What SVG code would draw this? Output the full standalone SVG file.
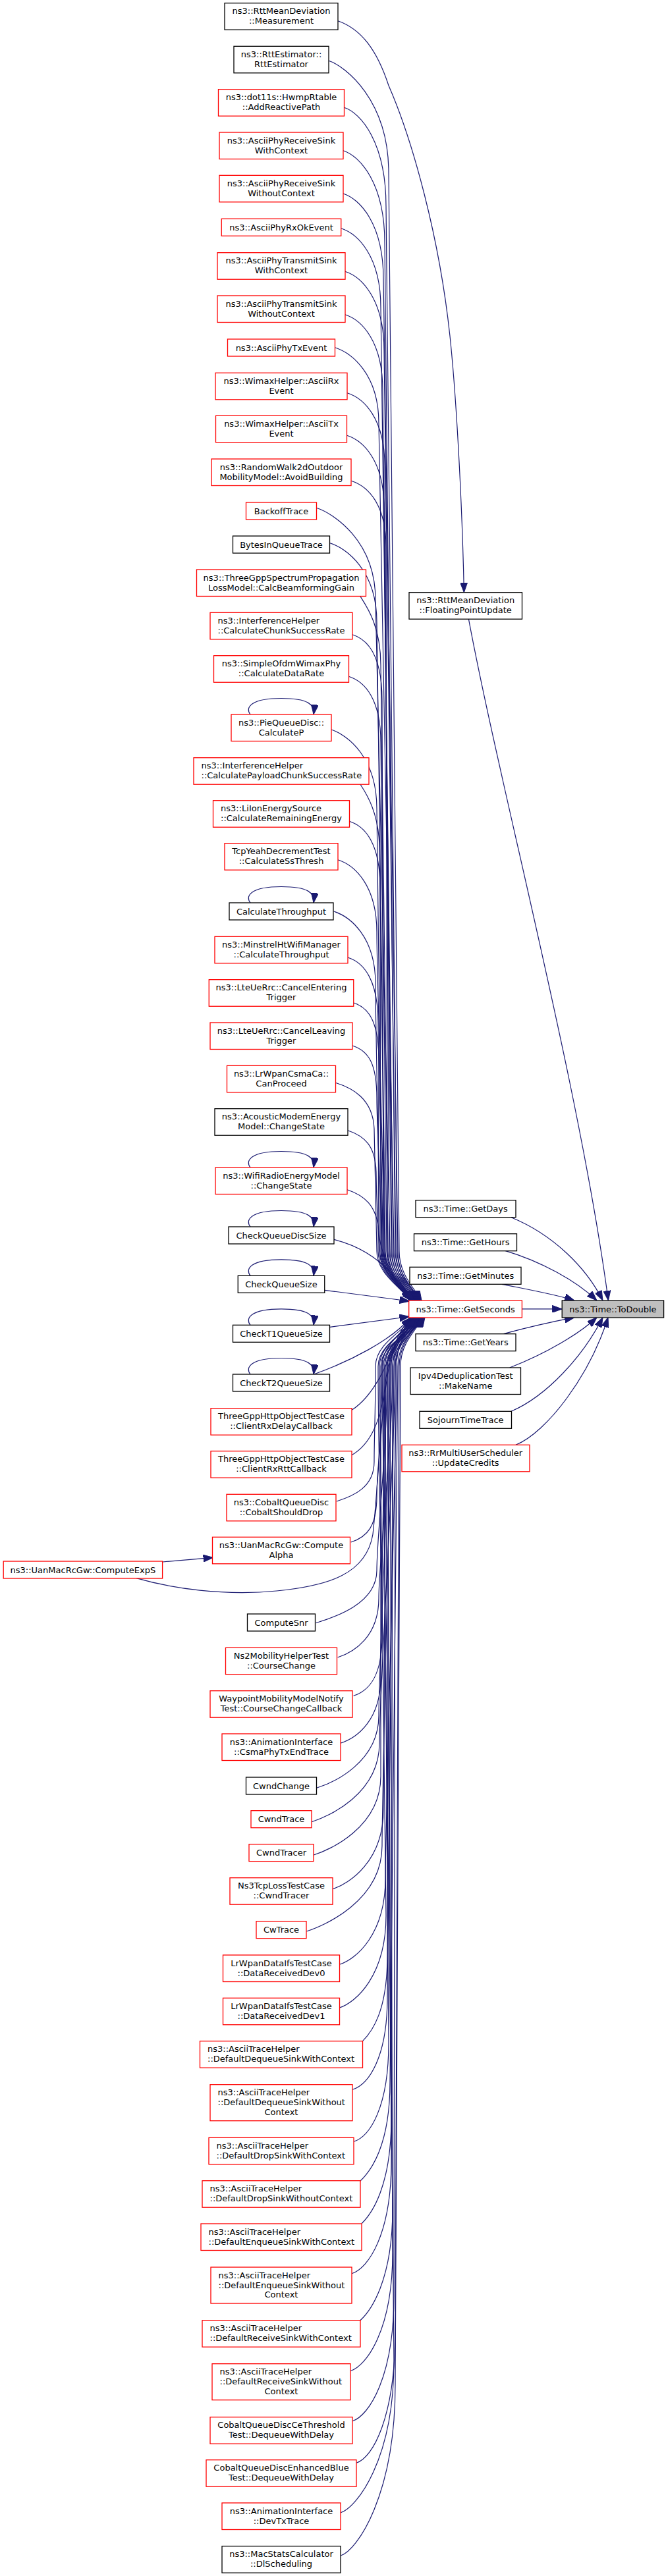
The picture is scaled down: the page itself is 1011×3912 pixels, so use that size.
<svg xmlns="http://www.w3.org/2000/svg" width="1011" height="3912" viewBox="0 0 1011 3912">
<defs>
<style>
rect.k{fill:#fff;stroke:#000;stroke-width:1.3}
rect.r{fill:#fff;stroke:#ff0000;stroke-width:1.3}
rect.g{fill:#bfbfbf;stroke:#000;stroke-width:1.3}
text{font-family:"DejaVu Sans","Liberation Sans",sans-serif;font-size:13px;fill:#000}
text.c{text-anchor:middle}
#edges path{fill:none;stroke:#191970;stroke-width:1.2;marker-end:url(#a)}
</style>
<marker id="a" markerUnits="userSpaceOnUse" markerWidth="15" markerHeight="11" viewBox="0 0 15 11" refX="15" refY="5.5" orient="auto"><path d="M0,0 L15,5.5 L0,11 z" fill="#191970" stroke="#191970" stroke-width="1"/></marker>
</defs>
<rect x="0" y="0" width="1011" height="3912" fill="#fff"/>
<g id="edges">
<path d="M513,31.7 C548,44 572,75 590,130 C625,210 668,360 684,520 C694,620 702,780 704.4,899.7"/>
<path d="M711.4,940.2 C760,1200 880,1650 923.4,1975"/>
<path d="M792.4,1987.9 L853.2,1987.9"/>
<path d="M776,1848.7 C840,1875 890,1925 915,1975"/>
<path d="M766.7,1899.3 C820,1915 875,1945 906,1975"/>
<path d="M762,1950.3 C800,1958 845,1966 872,1975"/>
<path d="M764.3,2025.7 C800,2016 845,2006 872,2000.7"/>
<path d="M773.7,2077 C830,2055 880,2025 906,2000.7"/>
<path d="M776,2143.3 C830,2120 885,2060 915,2000.7"/>
<path d="M783,2194.3 C830,2175 895,2090 923,2000.7"/>
<path d="M499,92.3 C524,100.3 590,151.8 590,262.3 S606,1780 606,1900 C606,1935 628,1955 640,1975"/>
<path d="M522.4,163.3 C547.4,171.3 586,215.8 586,313.3 S603,1780 603,1900 C603,1935 626,1955 638,1975"/>
<path d="M521,228.7 C546,236.7 584,277.7 584,368.7 S600,1780 600,1900 C600,1935 625,1955 637,1975"/>
<path d="M521,294 C546,302 582,339.5 582,424 S604,1780 604,1900 C604,1935 624,1955 636,1975"/>
<path d="M517.7,346.7 C542.7,354.7 578,388.7 578,466.7 S597,1780 597,1900 C597,1935 623,1955 635,1975"/>
<path d="M523.8,412.3 C548.8,420.3 583,454.3 583,532.3 S601,1780 601,1900 C601,1935 622,1955 634,1975"/>
<path d="M523.8,477.7 C548.8,485.7 581,518 581,592.7 S594,1780 594,1900 C594,1935 621,1955 633,1975"/>
<path d="M508.4,527.7 C533.4,535.7 575,568 575,642.7 S598,1780 598,1900 C598,1935 620,1955 632,1975"/>
<path d="M527.1,596.7 C552.1,604.7 584,635.2 584,706.7 S591,1780 591,1900 C591,1935 619,1955 631,1975"/>
<path d="M526.6,661.3 C551.6,669.3 583,699.8 583,771.3 S595,1780 595,1900 C595,1935 618,1955 630,1975"/>
<path d="M533.2,730.3 C558.2,738.3 586,765.3 586,830.3 S588,1780 588,1900 C588,1935 617,1955 629,1975"/>
<path d="M480.3,771.3 C505.3,779.3 570,820.3 570,911.3 S592,1780 592,1900 C592,1935 616,1955 628,1975"/>
<path d="M500.9,824.7 C525.9,832.7 572,866.7 572,944.7 S585,1780 585,1900 C585,1935 615,1955 627,1975"/>
<path d="M546.7,905.3 C556,920 578,950 578,1010 S589,1780 589,1900 C589,1935 615,1955 627,1975"/>
<path d="M535,963.7 C560,971.7 580,998.7 580,1063.7 S582,1780 582,1900 C582,1935 614,1955 626,1975"/>
<path d="M529.4,1027.3 C554.4,1035.3 578,1062.3 578,1127.3 S587,1780 587,1900 C587,1935 614,1955 626,1975"/>
<path d="M502.7,1108 C527.7,1116 572,1150 572,1228 S580,1780 580,1900 C580,1935 613,1955 625,1975"/>
<path d="M546.7,1190.7 C556,1205 576,1235 576,1290 S584,1780 584,1900 C584,1935 613,1955 625,1975"/>
<path d="M530.3,1247.3 C555.3,1255.3 577,1282.3 577,1347.3 S578,1780 578,1900 C578,1935 612,1955 624,1975"/>
<path d="M513,1305.7 C538,1313.7 572,1344.2 572,1415.7 S583,1780 583,1900 C583,1935 612,1955 624,1975"/>
<path d="M506.5,1384 C531.5,1392 570,1422.5 570,1494 S576,1780 576,1900 C576,1935 611,1955 623,1975"/>
<path d="M528,1454 C553,1462 574,1489 574,1554 S581,1780 581,1900 C581,1935 611,1955 623,1975"/>
<path d="M536.9,1523 C561.9,1531 575,1554.5 575,1613 S574,1780 574,1900 C574,1935 610,1955 622.5,1975"/>
<path d="M535,1588 C560,1596 572,1616 572,1668 S579,1800 579,1900 C579,1935 610,1955 622.5,1975"/>
<path d="M509.3,1644.3 C534,1652 566,1668 568,1714 C570,1800 572,1880 572,1900 C572,1935 610,1955 622,1975"/>
<path d="M528,1716.7 C553,1725 570,1740 571,1780 C572,1850 575,1885 577,1905 C580,1935 612,1957 624,1975"/>
<path d="M527.1,1806.7 C552,1815 572,1830 575,1870 C577,1905 600,1950 626,1975"/>
<path d="M507,1882.3 C545,1892 575,1912 595,1935 C608,1950 618,1962 628,1975"/>
<path d="M492.9,1959.3 L621.5,1976"/>
<path d="M500.9,2015.3 L621.5,1999.5"/>
<path d="M476.5,2087 C530,2068 595,2035 623,2001"/>
<path d="M534.1,2141.3 C570,2118 590,2065 600,2040 C607,2022 615,2010 624,2001"/>
<path d="M534,2209.7 C565,2192 580,2150 585,2100 C590,2050 610,2020 626,2001"/>
<path d="M511,2280 C536,2272 568,2259 568,2220 S570,2150 570,2075 C570,2040 615,2020 627,2000.7"/>
<path d="M532.7,2342 C557.7,2334 572,2317.5 572,2272 S580,2200 580,2075 C580,2040 617,2020 629,2000.7"/>
<path d="M479.6,2464.7 C504.6,2456.7 572,2436.7 572,2384.7 S588,2200 588,2075 C588,2040 619,2020 631,2000.7"/>
<path d="M512.6,2517 C537.6,2509 575,2485.5 575,2427 S596,2200 596,2075 C596,2040 621,2020 633,2000.7"/>
<path d="M536.6,2575.3 C561.6,2567.3 580,2543.8 580,2485.3 S574,2200 574,2075 C574,2040 623,2020 635,2000.7"/>
<path d="M516.8,2647.3 C541.8,2639.3 578,2612.3 578,2547.3 S584,2200 584,2075 C584,2040 625,2020 637,2000.7"/>
<path d="M480.7,2715.3 C505.7,2707.3 575,2676.8 575,2605.3 S592,2200 592,2075 C592,2040 627,2020 639,2000.7"/>
<path d="M473.3,2766.7 C498.3,2758.7 576,2724.7 576,2646.7 S600,2200 600,2075 C600,2040 629,2020 641,2000.7"/>
<path d="M475.6,2817.3 C500.6,2809.3 578,2775.3 578,2697.3 S578,2200 578,2075 C578,2040 631,2020 643,2000.7"/>
<path d="M505.1,2868.7 C530.1,2860.7 582,2826.7 582,2748.7 S586,2200 586,2075 C586,2040 633,2020 645,2000.7"/>
<path d="M465.3,2933 C490.3,2925 580,2887.5 580,2803 S594,2200 594,2075 C594,2040 616,2020 628,2000.7"/>
<path d="M515.4,2983.3 C540.4,2975.3 585,2937.8 585,2853.3 S602,2200 602,2075 C602,2040 618,2020 630,2000.7"/>
<path d="M515.4,3049 C540.4,3041 586,3000 586,2909 S576,2200 576,2075 C576,2040 620,2020 632,2000.7"/>
<path d="M550.5,3099.7 C565,3085 588,3054.2 588,2969.7 S590,2200 590,2075 C590,2040 622,2020 634,2000.7"/>
<path d="M535,3173.3 C560,3165.3 588,3124.3 588,3033.3 S598,2200 598,2075 C598,2040 624,2020 636,2000.7"/>
<path d="M536.9,3252.3 C561.9,3244.3 590,3199.8 590,3102.3 S582,2200 582,2075 C582,2040 626,2020 638,2000.7"/>
<path d="M546.7,3312.3 C562,3298 592,3259.8 592,3162.3 S604,2200 604,2075 C604,2040 628,2020 640,2000.7"/>
<path d="M549,3376.7 C564,3362 594,3320.7 594,3216.7 S588,2200 588,2075 C588,2040 630,2020 642,2000.7"/>
<path d="M534.1,3452.7 C559.1,3444.7 594,3393.2 594,3282.7 S596,2200 596,2075 C596,2040 632,2020 644,2000.7"/>
<path d="M546.7,3524 C562,3510 596,3464.5 596,3354 S580,2200 580,2075 C580,2040 617,2020 629,2000.7"/>
<path d="M531.8,3600.7 C556.8,3592.7 596,3537.7 596,3420.7 S592,2200 592,2075 C592,2040 621,2020 633,2000.7"/>
<path d="M535,3676.7 C560,3668.7 598,3610.2 598,3486.7 S600,2200 600,2075 C600,2040 625,2020 637,2000.7"/>
<path d="M541.1,3740.3 C566.1,3732.3 600,3670.3 600,3540.3 S606,2200 606,2075 C606,2040 629,2020 641,2000.7"/>
<path d="M516.8,3816 C541.8,3808 598,3735.5 598,3586 S584,2200 584,2075 C584,2040 623,2020 635,2000.7"/>
<path d="M516.8,3881.3 C541.8,3873.3 600,3790.3 600,3621.3 S608,2200 608,2075 C608,2040 631,2020 643,2000.7"/>
<path d="M207,2396.7 C260,2412 340,2424 420,2416 C500,2408 556,2390 566,2330 C575,2250 580,2100 595,2060 C605,2035 620,2015 632,2000.7"/>
<path d="M246.6,2372 L323.6,2365.3"/>
<path d="M380,1085 C372,1075 380,1060.5 427,1060.5 C468,1060.5 478,1070 476,1085"/>
<path d="M380,1371 C372,1361 380,1346.5 427,1346.5 C468,1346.5 478,1356 476,1371"/>
<path d="M380,1773 C372,1763 380,1748.5 427,1748.5 C468,1748.5 478,1758 476,1773"/>
<path d="M380,1863 C372,1853 380,1838.5 427,1838.5 C468,1838.5 478,1848 476,1863"/>
<path d="M380,1937.3 C372,1927.3 380,1912.8 427,1912.8 C468,1912.8 478,1922.3 476,1937.3"/>
<path d="M380,2012.3 C372,2002.3 380,1987.8 427,1987.8 C468,1987.8 478,1997.3 476,2012.3"/>
<path d="M380,2087 C372,2077 380,2062.5 427,2062.5 C468,2062.5 478,2072 476,2087"/>
</g>
<g id="n1"><rect class="k" x="341" y="4.7" width="172" height="40.5"/><text class="c" x="427" y="21.4">ns3::RttMeanDeviation</text><text class="c" x="427" y="36.4">::Measurement</text></g>
<g id="n2"><rect class="k" x="355" y="70.3" width="144" height="40.5"/><text class="c" x="427" y="87">ns3::RttEstimator::</text><text class="c" x="427" y="102">RttEstimator</text></g>
<g id="n3"><rect class="r" x="331.5" y="135.7" width="191" height="40.5"/><text class="c" x="427" y="152.4">ns3::dot11s::HwmpRtable</text><text class="c" x="427" y="167.4">::AddReactivePath</text></g>
<g id="n4"><rect class="r" x="333" y="201" width="188" height="40.5"/><text class="c" x="427" y="217.7">ns3::AsciiPhyReceiveSink</text><text class="c" x="427" y="232.7">WithContext</text></g>
<g id="n5"><rect class="r" x="333" y="266.3" width="188" height="40.5"/><text class="c" x="427" y="283">ns3::AsciiPhyReceiveSink</text><text class="c" x="427" y="298">WithoutContext</text></g>
<g id="n6"><rect class="r" x="336.25" y="332.3" width="181.5" height="26"/><text class="c" x="427" y="350">ns3::AsciiPhyRxOkEvent</text></g>
<g id="n7"><rect class="r" x="330" y="383.7" width="194" height="40.5"/><text class="c" x="427" y="400.4">ns3::AsciiPhyTransmitSink</text><text class="c" x="427" y="415.4">WithContext</text></g>
<g id="n8"><rect class="r" x="330" y="449" width="194" height="40.5"/><text class="c" x="427" y="465.7">ns3::AsciiPhyTransmitSink</text><text class="c" x="427" y="480.7">WithoutContext</text></g>
<g id="n9"><rect class="r" x="345.5" y="515" width="163" height="26"/><text class="c" x="427" y="532.7">ns3::AsciiPhyTxEvent</text></g>
<g id="n10"><rect class="r" x="327" y="566.3" width="200" height="40.5"/><text class="c" x="427" y="583">ns3::WimaxHelper::AsciiRx</text><text class="c" x="427" y="598">Event</text></g>
<g id="n11"><rect class="r" x="327.5" y="631.3" width="199" height="40.5"/><text class="c" x="427" y="648">ns3::WimaxHelper::AsciiTx</text><text class="c" x="427" y="663">Event</text></g>
<g id="n12"><rect class="r" x="321" y="697" width="212" height="40.5"/><text class="c" x="427" y="713.7">ns3::RandomWalk2dOutdoor</text><text class="c" x="427" y="728.7">MobilityModel::AvoidBuilding</text></g>
<g id="n13"><rect class="r" x="373.5" y="763" width="107" height="26"/><text class="c" x="427" y="780.7">BackoffTrace</text></g>
<g id="n14"><rect class="k" x="353.5" y="814" width="147" height="26"/><text class="c" x="427" y="831.7">BytesInQueueTrace</text></g>
<g id="n15"><rect class="r" x="298.5" y="865" width="257" height="40.5"/><text class="c" x="427" y="881.7">ns3::ThreeGppSpectrumPropagation</text><text class="c" x="427" y="896.7">LossModel::CalcBeamformingGain</text></g>
<g id="n16"><rect class="r" x="319" y="930.3" width="216" height="40.5"/><text x="330.5" y="947">ns3::InterferenceHelper</text><text x="330.5" y="962">::CalculateChunkSuccessRate</text></g>
<g id="n17"><rect class="r" x="324.5" y="995.7" width="205" height="40.5"/><text class="c" x="427" y="1012.4">ns3::SimpleOfdmWimaxPhy</text><text class="c" x="427" y="1027.4">::CalculateDataRate</text></g>
<g id="n18"><rect class="r" x="351" y="1085" width="152" height="40.5"/><text class="c" x="427" y="1101.7">ns3::PieQueueDisc::</text><text class="c" x="427" y="1116.7">CalculateP</text></g>
<g id="n19"><rect class="r" x="294" y="1150.7" width="266" height="40.5"/><text x="305.5" y="1167.4">ns3::InterferenceHelper</text><text x="305.5" y="1182.4">::CalculatePayloadChunkSuccessRate</text></g>
<g id="n20"><rect class="r" x="323.5" y="1215.7" width="207" height="40.5"/><text x="335" y="1232.4">ns3::LiIonEnergySource</text><text x="335" y="1247.4">::CalculateRemainingEnergy</text></g>
<g id="n21"><rect class="r" x="341" y="1280.7" width="172" height="40.5"/><text class="c" x="427" y="1297.4">TcpYeahDecrementTest</text><text class="c" x="427" y="1312.4">::CalculateSsThresh</text></g>
<g id="n22"><rect class="k" x="348" y="1371" width="158" height="26"/><text class="c" x="427" y="1388.7">CalculateThroughput</text></g>
<g id="n23"><rect class="r" x="326" y="1422.3" width="202" height="40.5"/><text class="c" x="427" y="1439">ns3::MinstrelHtWifiManager</text><text class="c" x="427" y="1454">::CalculateThroughput</text></g>
<g id="n24"><rect class="r" x="317.25" y="1487.7" width="219.5" height="40.5"/><text class="c" x="427" y="1504.4">ns3::LteUeRrc::CancelEntering</text><text class="c" x="427" y="1519.4">Trigger</text></g>
<g id="n25"><rect class="r" x="319" y="1553" width="216" height="40.5"/><text class="c" x="427" y="1569.7">ns3::LteUeRrc::CancelLeaving</text><text class="c" x="427" y="1584.7">Trigger</text></g>
<g id="n26"><rect class="r" x="344.5" y="1618.3" width="165" height="40.5"/><text class="c" x="427" y="1635">ns3::LrWpanCsmaCa::</text><text class="c" x="427" y="1650">CanProceed</text></g>
<g id="n27"><rect class="k" x="326" y="1683.7" width="202" height="40.5"/><text class="c" x="427" y="1700.4">ns3::AcousticModemEnergy</text><text class="c" x="427" y="1715.4">Model::ChangeState</text></g>
<g id="n28"><rect class="r" x="327" y="1773" width="200" height="40.5"/><text class="c" x="427" y="1789.7">ns3::WifiRadioEnergyModel</text><text class="c" x="427" y="1804.7">::ChangeState</text></g>
<g id="n29"><rect class="k" x="347" y="1863" width="160" height="26"/><text class="c" x="427" y="1880.7">CheckQueueDiscSize</text></g>
<g id="n30"><rect class="k" x="361.25" y="1937.3" width="131.5" height="26"/><text class="c" x="427" y="1955">CheckQueueSize</text></g>
<g id="n31"><rect class="k" x="353.5" y="2012.3" width="147" height="26"/><text class="c" x="427" y="2030">CheckT1QueueSize</text></g>
<g id="n32"><rect class="k" x="353.5" y="2087" width="147" height="26"/><text class="c" x="427" y="2104.7">CheckT2QueueSize</text></g>
<g id="n33"><rect class="r" x="320" y="2138.7" width="214" height="40.5"/><text class="c" x="427" y="2155.4">ThreeGppHttpObjectTestCase</text><text class="c" x="427" y="2170.4">::ClientRxDelayCallback</text></g>
<g id="n34"><rect class="r" x="320" y="2203.7" width="214" height="40.5"/><text class="c" x="427" y="2220.4">ThreeGppHttpObjectTestCase</text><text class="c" x="427" y="2235.4">::ClientRxRttCallback</text></g>
<g id="n35"><rect class="r" x="344" y="2269.3" width="166" height="40.5"/><text class="c" x="427" y="2286">ns3::CobaltQueueDisc</text><text class="c" x="427" y="2301">::CobaltShouldDrop</text></g>
<g id="n36"><rect class="r" x="322.5" y="2334.3" width="209" height="40.5"/><text class="c" x="427" y="2351">ns3::UanMacRcGw::Compute</text><text class="c" x="427" y="2366">Alpha</text></g>
<g id="n37"><rect class="k" x="375.5" y="2451" width="103" height="26"/><text class="c" x="427" y="2468.7">ComputeSnr</text></g>
<g id="n38"><rect class="r" x="342.5" y="2502.3" width="169" height="40.5"/><text class="c" x="427" y="2519">Ns2MobilityHelperTest</text><text class="c" x="427" y="2534">::CourseChange</text></g>
<g id="n39"><rect class="r" x="319" y="2567.7" width="216" height="40.5"/><text class="c" x="427" y="2584.4">WaypointMobilityModelNotify</text><text class="c" x="427" y="2599.4">Test::CourseChangeCallback</text></g>
<g id="n40"><rect class="r" x="337" y="2633" width="180" height="40.5"/><text class="c" x="427" y="2649.7">ns3::AnimationInterface</text><text class="c" x="427" y="2664.7">::CsmaPhyTxEndTrace</text></g>
<g id="n41"><rect class="k" x="373.5" y="2699" width="107" height="26"/><text class="c" x="427" y="2716.7">CwndChange</text></g>
<g id="n42"><rect class="r" x="381" y="2749.7" width="92" height="26"/><text class="c" x="427" y="2767.4">CwndTrace</text></g>
<g id="n43"><rect class="r" x="378" y="2800.7" width="98" height="26"/><text class="c" x="427" y="2818.4">CwndTracer</text></g>
<g id="n44"><rect class="r" x="349" y="2851.7" width="156" height="40.5"/><text class="c" x="427" y="2868.4">Ns3TcpLossTestCase</text><text class="c" x="427" y="2883.4">::CwndTracer</text></g>
<g id="n45"><rect class="r" x="389" y="2917.7" width="76" height="26"/><text class="c" x="427" y="2935.4">CwTrace</text></g>
<g id="n46"><rect class="r" x="338.5" y="2969" width="177" height="40.5"/><text class="c" x="427" y="2985.7">LrWpanDataIfsTestCase</text><text class="c" x="427" y="3000.7">::DataReceivedDev0</text></g>
<g id="n47"><rect class="r" x="338.5" y="3034.3" width="177" height="40.5"/><text class="c" x="427" y="3051">LrWpanDataIfsTestCase</text><text class="c" x="427" y="3066">::DataReceivedDev1</text></g>
<g id="n48"><rect class="r" x="303.5" y="3099.7" width="247" height="40.5"/><text x="315" y="3116.4">ns3::AsciiTraceHelper</text><text x="315" y="3131.4">::DefaultDequeueSinkWithContext</text></g>
<g id="n49"><rect class="r" x="319" y="3165.7" width="216" height="55"/><text x="330.5" y="3182.4">ns3::AsciiTraceHelper</text><text x="330.5" y="3197.2">::DefaultDequeueSinkWithout</text><text class="c" x="427" y="3211.7">Context</text></g>
<g id="n50"><rect class="r" x="317" y="3246.3" width="220" height="40.5"/><text x="328.5" y="3263">ns3::AsciiTraceHelper</text><text x="328.5" y="3278">::DefaultDropSinkWithContext</text></g>
<g id="n51"><rect class="r" x="307" y="3311.7" width="240" height="40.5"/><text x="318.5" y="3328.4">ns3::AsciiTraceHelper</text><text x="318.5" y="3343.4">::DefaultDropSinkWithoutContext</text></g>
<g id="n52"><rect class="r" x="305" y="3377" width="244" height="40.5"/><text x="316.5" y="3393.7">ns3::AsciiTraceHelper</text><text x="316.5" y="3408.7">::DefaultEnqueueSinkWithContext</text></g>
<g id="n53"><rect class="r" x="320" y="3443" width="214" height="55"/><text x="331.5" y="3459.7">ns3::AsciiTraceHelper</text><text x="331.5" y="3474.5">::DefaultEnqueueSinkWithout</text><text class="c" x="427" y="3489">Context</text></g>
<g id="n54"><rect class="r" x="307" y="3523.7" width="240" height="40.5"/><text x="318.5" y="3540.4">ns3::AsciiTraceHelper</text><text x="318.5" y="3555.4">::DefaultReceiveSinkWithContext</text></g>
<g id="n55"><rect class="r" x="322" y="3589.7" width="210" height="55"/><text x="333.5" y="3606.4">ns3::AsciiTraceHelper</text><text x="333.5" y="3621.2">::DefaultReceiveSinkWithout</text><text class="c" x="427" y="3635.7">Context</text></g>
<g id="n56"><rect class="r" x="319" y="3670.7" width="216" height="40.5"/><text class="c" x="427" y="3687.4">CobaltQueueDiscCeThreshold</text><text class="c" x="427" y="3702.4">Test::DequeueWithDelay</text></g>
<g id="n57"><rect class="r" x="313" y="3735.7" width="228" height="40.5"/><text class="c" x="427" y="3752.4">CobaltQueueDiscEnhancedBlue</text><text class="c" x="427" y="3767.4">Test::DequeueWithDelay</text></g>
<g id="n58"><rect class="r" x="337" y="3801" width="180" height="40.5"/><text class="c" x="427" y="3817.7">ns3::AnimationInterface</text><text class="c" x="427" y="3832.7">::DevTxTrace</text></g>
<g id="n59"><rect class="k" x="337" y="3866.7" width="180" height="40.5"/><text class="c" x="427" y="3883.4">ns3::MacStatsCalculator</text><text class="c" x="427" y="3898.4">::DlScheduling</text></g>
<g id="fpu"><rect class="k" x="621" y="899.7" width="171.5" height="40.5"/><text class="c" x="706.7" y="916.4">ns3::RttMeanDeviation</text><text class="c" x="706.7" y="931.4">::FloatingPointUpdate</text></g>
<g id="getdays"><rect class="k" x="631" y="1822.7" width="152" height="26"/><text class="c" x="706.7" y="1840.4">ns3::Time::GetDays</text></g>
<g id="gethours"><rect class="k" x="628.5" y="1873.7" width="156" height="26"/><text class="c" x="706.7" y="1891.4">ns3::Time::GetHours</text></g>
<g id="getminutes"><rect class="k" x="622" y="1924.3" width="169" height="26"/><text class="c" x="706.7" y="1942">ns3::Time::GetMinutes</text></g>
<g id="getseconds"><rect class="r" x="620.7" y="1975" width="171.7" height="26"/><text class="c" x="706.7" y="1992.7">ns3::Time::GetSeconds</text></g>
<g id="getyears"><rect class="k" x="631" y="2025.7" width="152" height="26"/><text class="c" x="706.7" y="2043.4">ns3::Time::GetYears</text></g>
<g id="makename"><rect class="k" x="623" y="2077" width="167.5" height="40.5"/><text class="c" x="706.7" y="2093.7">Ipv4DeduplicationTest</text><text class="c" x="706.7" y="2108.7">::MakeName</text></g>
<g id="sojourn"><rect class="k" x="637" y="2143.3" width="139.5" height="26"/><text class="c" x="706.7" y="2161">SojournTimeTrace</text></g>
<g id="updatecredits"><rect class="r" x="610" y="2194.3" width="194" height="40.5"/><text class="c" x="706.7" y="2211">ns3::RrMultiUserScheduler</text><text class="c" x="706.7" y="2226">::UpdateCredits</text></g>
<g id="todouble"><rect class="g" x="853.2" y="1975" width="154.4" height="26"/><text class="c" x="930.4" y="1992.7">ns3::Time::ToDouble</text></g>
<g id="computeexps"><rect class="r" x="5.2" y="2371" width="241.4" height="26"/><text class="c" x="125.9" y="2388.7">ns3::UanMacRcGw::ComputeExpS</text></g>
</svg>
